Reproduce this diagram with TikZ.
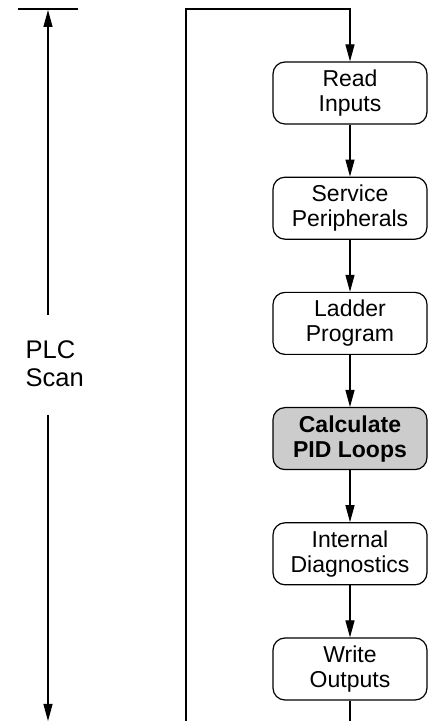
\documentclass[tikz,border=0pt]{standalone}
\usepackage{fontspec}
\setmainfont{Liberation Sans}
\usetikzlibrary{arrows.meta,positioning}

\begin{document}
\begin{tikzpicture}[x=1pt,y=1pt,>={Triangle[length=17pt,width=9pt]},line width=1.2pt,node distance=52pt,
        stage/.style={rectangle,rounded corners=12pt,draw=black,minimum width=154pt,minimum height=62pt,inner sep=0pt,align=center,font=\fontsize{23}{25}\selectfont},
        pidstage/.style={stage,fill=black!20,font=\fontsize{23}{25}\selectfont\bfseries}]

        \useasboundingbox (0,0) rectangle (428,721);

        \node [stage]    (read)    at (350,628)        {Read\\Inputs};
        \node [stage]    (service) [below=of read]     {Service\\Peripherals};
        \node [stage]    (ladder)  [below=of service]  {Ladder\\Program};
        \node [pidstage] (pid)     [below=of ladder]   {Calculate\\PID Loops};
        \node [stage]    (diag)    [below=of pid]      {Internal\\Diagnostics};
        \node [stage]    (write)   [below=of diag]     {Write\\Outputs};

        \coordinate (loopbot) at (186,0);
        \coordinate (looptop) at (186,712);
        \coordinate (exit)    at (write.south |- loopbot);

        \node [anchor=west,inner sep=0pt,align=left,font=\fontsize{25.5}{28}\selectfont] (scan) at (25,357.5) {PLC\\Scan};
        \coordinate (barl)    at (18,712);
        \coordinate (barr)    at (78,712);
        \coordinate (scantop) at (48,711);
        \coordinate (scanup)  at (48,406);
        \coordinate (scandn)  at (48,306);
        \coordinate (scanbot) at (48,0);

        \path [->]
          (read)    edge (service)
          (service) edge (ladder)
          (ladder)  edge (pid)
          (pid)     edge (diag)
          (diag)    edge (write)
        ;
        \draw (write.south) -- (exit);
        \draw [->] (loopbot) -- (looptop) -| (read);

        \draw (barl) -- (barr);
        \draw [->] (scanup) -- (scantop);
        \draw [->] (scandn) -- (scanbot);
      \end{tikzpicture}
\end{document}
